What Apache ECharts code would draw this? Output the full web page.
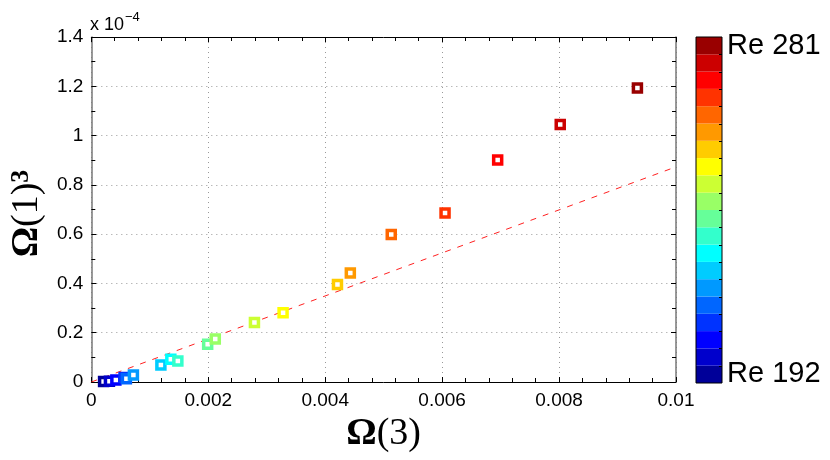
<!DOCTYPE html>
<html><head><meta charset="utf-8">
<script src="https://cdn.jsdelivr.net/npm/echarts@6/dist/echarts.min.js"></script>
<style>html,body{margin:0;padding:0;background:#fff}#c{width:830px;height:460px}</style>
</head><body><div id="c"></div>
<script>
// Omega(3) values (x)
const omega3 = [0.00021, 0.00031, 0.00042, 0.00056, 0.00060, 0.00072, 0.00119, 0.00136, 0.00148, 0.00199, 0.00212, 0.00279, 0.00328, 0.00421, 0.00443, 0.00513, 0.00605, 0.00695, 0.00802, 0.00934];
// Omega(1)^3 values in units of 1e-4 (y)
const omega1Cubed = [0.002, 0.003, 0.008, 0.018, 0.013, 0.028, 0.069, 0.092, 0.085, 0.153, 0.174, 0.241, 0.281, 0.396, 0.442, 0.599, 0.686, 0.901, 1.045, 1.193];
// Reynolds number of each point (colour)
const reynolds = [192, 197, 202, 206, 211, 215, 220, 225, 229, 234, 238, 243, 247, 252, 256, 261, 265, 270, 274, 281];
// dashed reference line
const fitX = [0, 0.01];
const fitY = [0, 0.873];
// colour bar
const reMin = 192, reMax = 281;
const jetColors = ['#000099','#0000cc','#0000ff','#0033ff','#0066ff','#0099ff','#00ccff','#00ffff','#33ffcc','#66ff99','#99ff66','#ccff33','#ffff00','#ffcc00','#ff9900','#ff6600','#ff3300','#ff0000','#cc0000','#990000'];
const cbLabels = jetColors.map((c, i) => i === 0 ? 'Re ' + reMin : (i === jetColors.length - 1 ? 'Re ' + reMax : ''));

const nLev = jetColors.length;
const step = (reMax - reMin) / nLev;
const colorOf = re => jetColors[Math.max(0, Math.min(nLev - 1, Math.floor((re - reMin) / step)))];

const cbLeft = 696, cbTop = 37, cbW = 26, cbH = 346;
const segH = cbH / nLev;
const graphics = [{ type: 'rect', shape: { x: cbLeft, y: cbTop, width: cbW, height: cbH }, style: { fill: 'none', stroke: '#000', lineWidth: 1 }, z: 100 }];
for (let i = 1; i < nLev; i++) {
  const y = Math.round(cbTop + i * segH) + 0.5;
  graphics.push({ type: 'line', shape: { x1: cbLeft + cbW - 3, y1: y, x2: cbLeft + cbW, y2: y }, style: { stroke: '#000', lineWidth: 1 }, z: 100 });
}

const scatterData = omega3.map((x, i) => ({ value: [x, omega1Cubed[i], reynolds[i]], itemStyle: { color: '#fff', borderColor: colorOf(reynolds[i]) } }));
const lineData = fitX.map((x, i) => [x, fitY[i]]);
const cbData = jetColors.map(c => ({ value: 1, itemStyle: { color: c } }));

const tickFont = { fontFamily: 'Liberation Sans', fontSize: 19, color: '#000' };
const serif = 'Liberation Serif';
const gridDotted = { show: true, lineStyle: { color: '#999', type: [1, 4], width: 1 } };

const chart = echarts.init(document.getElementById('c'), null, { renderer: 'canvas' });
chart.setOption({
  animation: false,
  backgroundColor: '#fff',
  title: {
    text: '{a|x 10}{b|−4}', left: 90, top: 11, padding: 0,
    textStyle: { fontWeight: 'normal', rich: {
      a: { fontFamily: 'Liberation Sans', fontWeight: 'normal', fontSize: 18, color: '#000', verticalAlign: 'bottom', lineHeight: 23 },
      b: { fontFamily: 'Liberation Sans', fontWeight: 'normal', fontSize: 13, color: '#000', verticalAlign: 'top', lineHeight: 14, padding: [0, 0, 0, 1] }
    } }
  },
  grid: [
    { left: 89, right: 154, top: 37, bottom: 78 },
    { left: cbLeft, top: cbTop, width: cbW, height: cbH }
  ],
  xAxis: [{
    type: 'value', min: 0, max: 0.01, interval: 0.002,
    axisLine: { lineStyle: { color: '#000', width: 1 } },
    axisTick: { inside: true, length: 5, lineStyle: { color: '#000' } },
    minorTick: { show: true, splitNumber: 5, length: 4, lineStyle: { color: '#000' } },
    axisLabel: Object.assign({ margin: 9 }, tickFont),
    splitLine: gridDotted,
    name: '{b|Ω}{n|(3)}', nameLocation: 'middle', nameGap: 26,
    nameTextStyle: { rich: {
      b: { fontFamily: serif, fontWeight: 'bold', fontSize: 38, color: '#000' },
      n: { fontFamily: serif, fontSize: 38, color: '#000' }
    } }
  }, {
    type: 'value', position: 'top', min: 0, max: 0.01, interval: 0.002,
    axisLine: { onZero: false, lineStyle: { color: '#000', width: 1 } },
    axisTick: { inside: true, length: 5, lineStyle: { color: '#000' } },
    minorTick: { show: true, splitNumber: 5, length: 4, lineStyle: { color: '#000' } },
    axisLabel: { show: false }, splitLine: { show: false }
  }, {
    type: 'value', gridIndex: 1, min: 0, max: 1, show: false
  }],
  yAxis: [{
    type: 'value', min: 0, max: 1.4, interval: 0.2,
    axisLine: { lineStyle: { color: '#777', width: 1.5 } },
    axisTick: { inside: true, length: 5, lineStyle: { color: '#000' } },
    minorTick: { show: true, splitNumber: 2, length: 4, lineStyle: { color: '#000' } },
    axisLabel: Object.assign({ margin: 8 }, tickFont),
    splitLine: gridDotted,
    name: '{b|Ω}{n|(1)}{s|3}', nameLocation: 'middle', nameRotate: 90, nameGap: 32,
    nameTextStyle: { padding: [0, 8, 0, 0], rich: {
      b: { fontFamily: serif, fontWeight: 'bold', fontSize: 38, color: '#000' },
      n: { fontFamily: serif, fontSize: 38, color: '#000' },
      s: { fontFamily: serif, fontWeight: 'bold', fontSize: 26, color: '#000', verticalAlign: 'top' }
    } }
  }, {
    type: 'value', position: 'right', min: 0, max: 1.4, interval: 0.2,
    axisLine: { onZero: false, lineStyle: { color: '#777', width: 1.5 } },
    axisTick: { inside: true, length: 5, lineStyle: { color: '#000' } },
    minorTick: { show: true, splitNumber: 2, length: 4, lineStyle: { color: '#000' } },
    axisLabel: { show: false }, splitLine: { show: false }
  }, {
    type: 'category', gridIndex: 1, position: 'right', data: cbLabels,
    axisLine: { show: false }, axisTick: { show: false }, splitLine: { show: false },
    axisLabel: { interval: 0, margin: 5, fontFamily: 'Liberation Sans', fontSize: 29, color: '#000' }
  }],
  graphic: graphics,
  series: [{
    type: 'scatter', data: scatterData, symbol: 'rect', symbolSize: 8,
    itemStyle: { borderWidth: 3.5, opacity: 1 }, z: 5
  }, {
    type: 'line', data: lineData, showSymbol: false, symbol: 'none',
    lineStyle: { color: '#ff2020', width: 1, type: [6, 7] }, z: 3, silent: true
  }, {
    type: 'bar', xAxisIndex: 2, yAxisIndex: 2, data: cbData,
    barCategoryGap: '0%', barWidth: '100%', silent: true
  }]
});
</script></body></html>
